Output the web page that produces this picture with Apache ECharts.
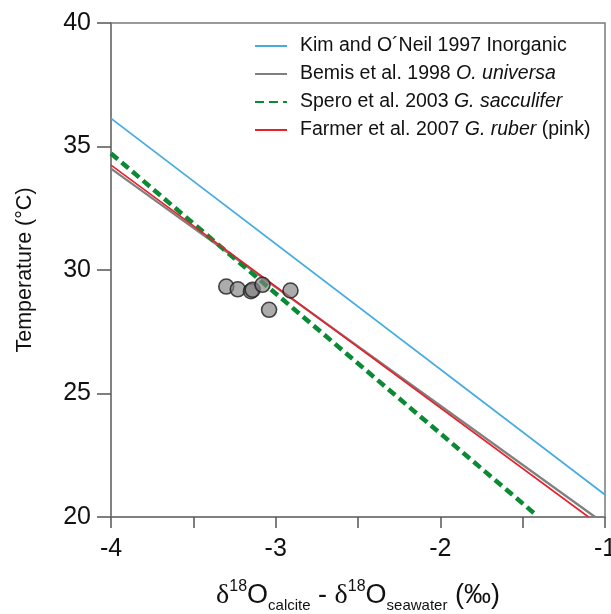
<!DOCTYPE html>
<html><head><meta charset="utf-8">
<script src="https://cdn.jsdelivr.net/npm/echarts@6/dist/echarts.min.js"></script>
<style>html,body{margin:0;padding:0;background:#fff}#c{width:611px;height:614px}</style>
</head><body><div id="c"></div>
<script>
// Calibration lines: [delta18O, temperature] end points
var kimLine    = [[-4, 36.14], [-1, 20.9]];
var bemisLine  = [[-4, 34.1], [-1.06, 20]];
var speroLine  = [[-4, 34.72], [-1.43, 20.15]];
var farmerLine = [[-4, 34.25], [-1.10, 20]];
// Measured samples
var sampleX = [-3.30, -3.23, -3.15, -3.14, -3.08, -3.04, -2.91];
var sampleT = [29.33, 29.22, 29.14, 29.20, 29.40, 28.39, 29.17];
var seriesNames = [
  'Kim and O´Neil 1997 Inorganic',
  'Bemis et al. 1998 O. universa',
  'Spero et al. 2003 G. sacculifer',
  'Farmer et al. 2007 G. ruber (pink)'
];
var legendRich = {
  'Kim and O´Neil 1997 Inorganic': 'Kim and O´Neil 1997 Inorganic',
  'Bemis et al. 1998 O. universa': 'Bemis et al. 1998 {i|O. universa}',
  'Spero et al. 2003 G. sacculifer': 'Spero et al. 2003 {i|G. sacculifer}',
  'Farmer et al. 2007 G. ruber (pink)': 'Farmer et al. 2007 {i|G. ruber} (pink)'
};
var xTicks = [-4, -3, -2, -1];
var yTicks = [20, 25, 30, 35, 40];

var font = 'Liberation Sans, Arial, sans-serif';
var chart = echarts.init(document.getElementById('c'));
var samples = sampleX.map(function(x, i){ return [x, sampleT[i]]; });
chart.setOption({
  animation: false,
  grid: { left: 111, right: 6, top: 23, bottom: 97, show: true, borderColor: '#7a7a7a', borderWidth: 1.5,
          backgroundColor: 'transparent', containLabel: false, outerBoundsMode: 'none' },
  legend: {
    orient: 'vertical', left: 249, top: 30, itemWidth: 32, itemHeight: 14, itemGap: 6,
    data: seriesNames,
    itemStyle: { opacity: 0 },
    formatter: function(n){ return legendRich[n]; },
    textStyle: { fontFamily: font, fontSize: 19.5, lineHeight: 22, color: '#111', padding: [0,0,0,8],
      rich: { i: { fontFamily: font, fontSize: 19.5, lineHeight: 22, fontStyle: 'italic', color: '#111' } } }
  },
  xAxis: {
    type: 'value', min: -4, max: -1, interval: 0.5,
    axisLine: { show: true, lineStyle: { color: '#7a7a7a', width: 1.5 } },
    axisTick: { show: true, inside: false, length: 11, lineStyle: { color: '#555', width: 1.5 } },
    splitLine: { show: false },
    axisLabel: { margin: 20, fontFamily: font, fontSize: 25, color: '#111',
      formatter: function(v){ return xTicks.indexOf(v) >= 0 ? String(v) : ''; } },
    name: '{d|δ}{sup|18}{t|O}{sub|calcite}{t| - }{d|δ}{sup|18}{t|O}{sub|seawater}{t| (‰)}',
    nameLocation: 'middle', nameGap: 62,
    nameTextStyle: { rich: {
      d: { fontFamily: 'Liberation Serif, Times New Roman, serif', fontSize: 28, color: '#111', lineHeight: 34, verticalAlign: 'middle' },
      t: { fontFamily: font, fontSize: 27, color: '#111', lineHeight: 34, verticalAlign: 'middle' },
      sup: { fontFamily: font, fontSize: 16, color: '#111', lineHeight: 34, verticalAlign: 'top', padding: [0,0,6,0] },
      sub: { fontFamily: font, fontSize: 15, color: '#111', lineHeight: 34, verticalAlign: 'bottom', padding: [12,0,0,0] }
    } }
  },
  yAxis: {
    type: 'value', min: 20, max: 40, interval: 5,
    axisLine: { show: true, lineStyle: { color: '#7a7a7a', width: 1.5 } },
    axisTick: { show: true, inside: false, length: 14, lineStyle: { color: '#555', width: 1.5 } },
    splitLine: { show: false },
    axisLabel: { margin: 20, fontFamily: font, fontSize: 25, color: '#111',
      formatter: function(v){ return yTicks.indexOf(v) >= 0 ? String(v) : ''; } },
    name: 'Temperature (°C)', nameLocation: 'middle', nameGap: 75, nameRotate: 90,
    nameTextStyle: { fontFamily: font, fontSize: 21.5, color: '#111' }
  },
  series: [
    { name: seriesNames[0], type: 'line', data: kimLine, showSymbol: false, symbol: 'none',
      lineStyle: { color: '#45ace2', width: 1.8 }, itemStyle: { color: '#45ace2' } },
    { name: seriesNames[1], type: 'line', data: bemisLine, showSymbol: false, symbol: 'none',
      lineStyle: { color: '#7f7f7f', width: 2.2 }, itemStyle: { color: '#7f7f7f' } },
    { name: seriesNames[2], type: 'line', data: speroLine, showSymbol: false, symbol: 'none', z: 3,
      lineStyle: { color: '#0a8a34', width: 4.5, type: [9, 5] }, itemStyle: { color: '#0a8a34' } },
    { name: seriesNames[3], type: 'line', data: farmerLine, showSymbol: false, symbol: 'none',
      lineStyle: { color: '#e8202a', width: 1.6 }, itemStyle: { color: '#e8202a' } },
    { name: 'samples', type: 'scatter', data: samples, symbol: 'circle', symbolSize: 15, z: 5,
      itemStyle: { color: 'rgba(128,128,128,0.82)', borderColor: '#1e1e1e', borderWidth: 1.6 } }
  ]
});
</script></body></html>
